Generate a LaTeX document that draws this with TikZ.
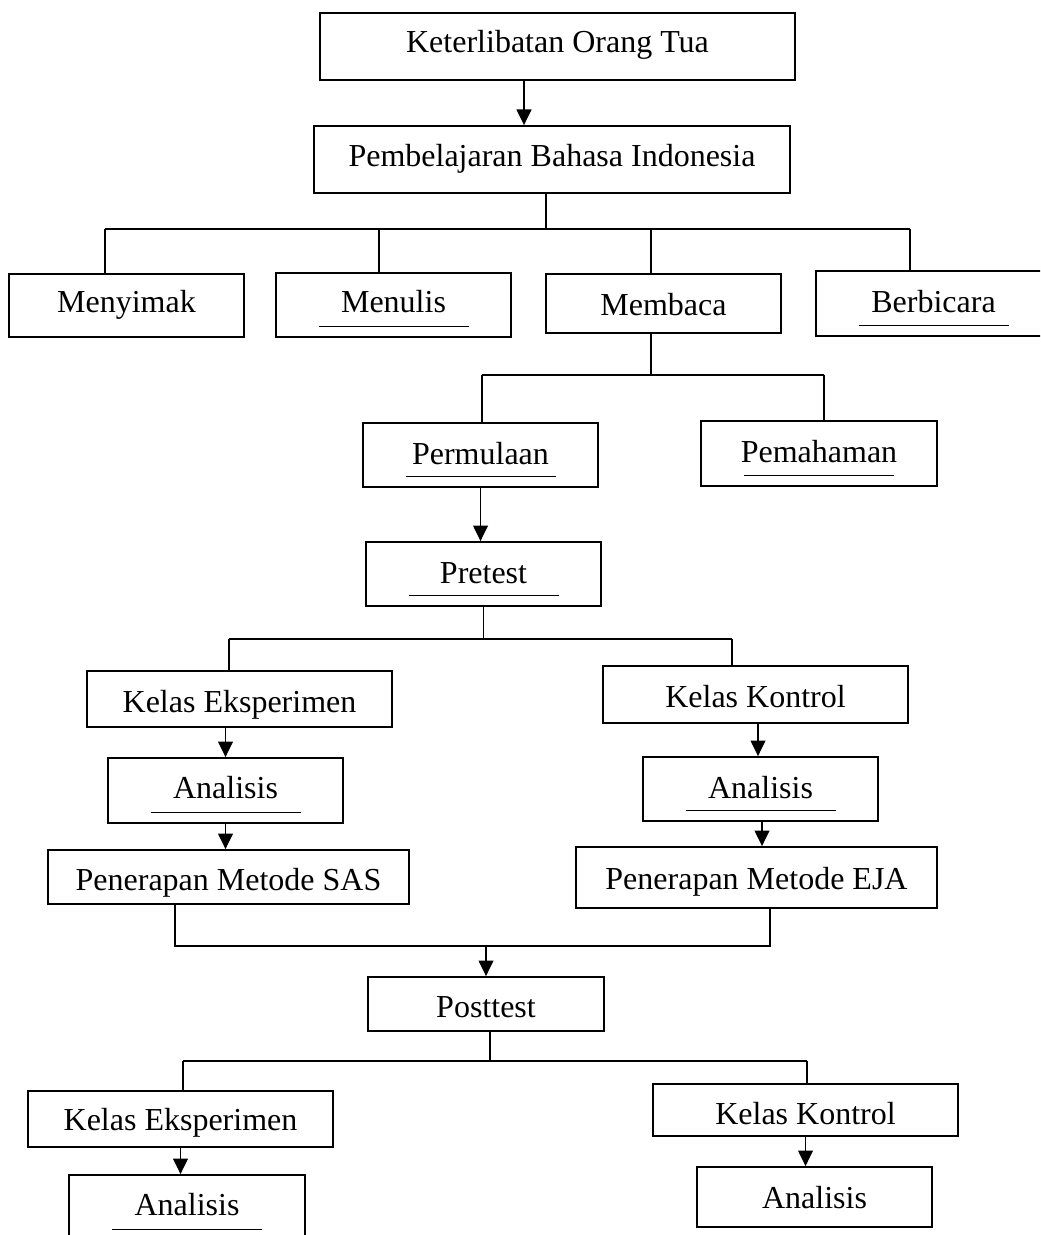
\documentclass[tikz,border=0pt]{standalone}
\usepackage{fontspec}
\setmainfont{Liberation Serif}
\usetikzlibrary{arrows.meta,calc}

\begin{document}
\begin{tikzpicture}[x=0.5pt, y=0.5pt, font=\fontsize{16pt}{19pt}\selectfont,
  box/.style={draw, line width=0.9pt, inner sep=0pt, text height=16pt, text depth=16pt-#1pt},
  box/.default=8,
  wh/.style 2 args={minimum width=#1*0.5pt, minimum height=#2*0.5pt},
  line/.style={line width=0.8pt},
  arr/.style={-{Triangle[length=7.8pt, width=7.4pt]}, line width=0.8pt},
  uline/.style={line width=0.5pt}]
\path[use as bounding box, clip] (0,0) rectangle (1040,-1235);
\node[box=6.5, wh={475}{67}] (top) at (557.5,-46.5) {Keterlibatan Orang Tua};
\node[box=7.5, wh={476}{67}] (pbi) at (552,-159.5) {Pembelajaran Bahasa Indonesia};
\node[box=7.5, wh={235}{63}] (menyimak) at (126.5,-305.5) {Menyimak};
\node[box=8, wh={235}{64}] (menulis) at (393.5,-305) {Menulis};
\node[box=11.5, wh={235}{59}] (membaca) at (663.5,-303.5) {Membaca};
\node[box=9.5, wh={235}{65}] (berbicara) at (933.5,-303.5) {Berbicara};
\node[box=9, wh={235}{64}] (permulaan) at (480.5,-455) {Permulaan};
\node[box=8.5, wh={236}{65}] (pemahaman) at (819,-453.5) {Pemahaman};
\node[box=9, wh={235}{64}] (pretest) at (483.5,-574) {Pretest};
\node[box=13, wh={305}{56}] (ke1) at (239.5,-699) {Kelas Eksperimen};
\node[box=7.5, wh={235}{65}] (anl) at (225.5,-790.5) {Analisis};
\node[box=13, wh={361}{54}] (sas) at (228.5,-877) {Penerapan Metode SAS};
\node[box=12.5, wh={305}{57}] (kk1) at (755.5,-694.5) {Kelas Kontrol};
\node[box=9, wh={235}{64}] (anr) at (760.5,-789) {Analisis};
\node[box=11.5, wh={361}{61}] (eja) at (756.5,-877.5) {Penerapan Metode EJA};
\node[box=13.5, wh={236}{54}] (post) at (486,-1004) {Posttest};
\node[box=11, wh={305}{56}] (ke2) at (180.5,-1119) {Kelas Eksperimen};
\node[box=7.5, wh={236}{65}] (anbl) at (187,-1207.5) {Analisis};
\node[box=14, wh={305}{52}] (kk2) at (805.5,-1110) {Kelas Kontrol};
\node[box=11, wh={235}{60}] (anbr) at (814.5,-1197) {Analisis};

\coordinate (a0) at (546,-229);
\coordinate (a1) at (105,-229);
\coordinate (a2) at (379,-229);
\coordinate (a3) at (651,-229);
\coordinate (a4) at (910,-229);
\coordinate (b0) at (651,-375);
\coordinate (b1) at (482,-375);
\coordinate (b2) at (824,-375);
\coordinate (c1) at (229,-639);
\coordinate (c2) at (732,-639);
\coordinate (d1) at (175,-946);
\coordinate (d2) at (770,-946);
\coordinate (e0) at (490,-1061);
\coordinate (e1) at (183,-1061);
\coordinate (e2) at (807,-1061);

\draw[arr] (top.south -| 524,0) -- (pbi.north -| 524,0);
\draw[line] (pbi.south -| a0) -- (a0);
\draw[line] (a1) -- (a4);
\foreach \t/\n in {a1/menyimak, a2/menulis, a3/membaca, a4/berbicara}
  \draw[line] (\t) -- (\t |- \n.north);
\draw[line] (membaca.south -| b0) -- (b0);
\draw[line] (b1) -- (b2);
\foreach \t/\n in {b1/permulaan, b2/pemahaman}
  \draw[line] (\t) -- (\t |- \n.north);
\draw[arr] (permulaan.south) -- (permulaan.south |- pretest.north);
\draw[line] (pretest.south) -- (pretest.south |- c1);
\draw[line] (c1) -- (c2);
\foreach \t/\n in {c1/ke1, c2/kk1}
  \draw[line] (\t) -- (\t |- \n.north);
\draw[arr] (ke1.south -| anl.north) -- (anl.north);
\draw[arr] (anl.south) -- (anl.south |- sas.north);
\draw[arr] (kk1.south -| 758,0) -- (anr.north -| 758,0);
\draw[arr] (anr.south -| 762,0) -- (eja.north -| 762,0);
\draw[line] (sas.south -| d1) -- (d1) -- (d2) -- (eja.south -| d2);
\draw[arr] (post.north |- d1) -- (post.north);
\draw[line] (post.south -| e0) -- (e0);
\draw[line] (e1) -- (e2);
\foreach \t/\n in {e1/ke2, e2/kk2}
  \draw[line] (\t) -- (\t |- \n.north);
\draw[arr] (ke2.south) -- (ke2.south |- anbl.north);
\draw[arr] (kk2.south) -- (kk2.south |- anbr.north);

\foreach \n in {menulis, berbicara, permulaan, pemahaman, pretest, anl, anr, anbl}
  \draw[uline] ($(\n.south)+(-75,11)$) -- ++(150,0);
\end{tikzpicture}
\end{document}
